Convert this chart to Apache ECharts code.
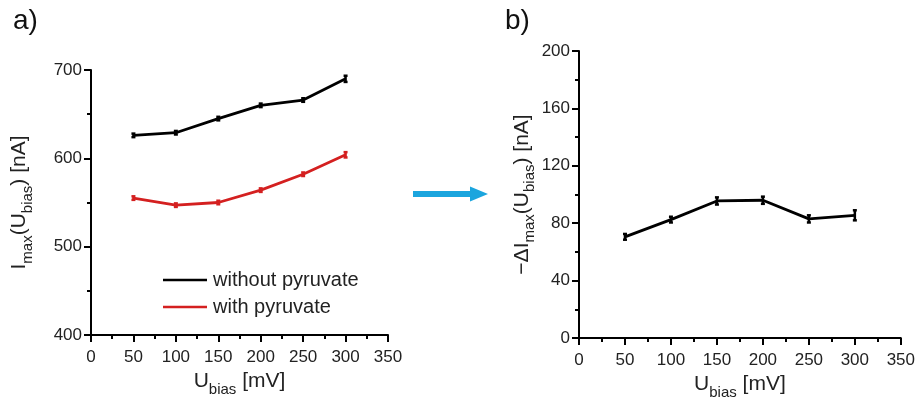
<!DOCTYPE html>
<html>
<head>
<meta charset="utf-8">
<script src="https://cdn.jsdelivr.net/npm/echarts@6/dist/echarts.min.js"></script>
<style>
  html, body { margin: 0; padding: 0; background: #fff; }
  #chart { width: 918px; height: 410px; }
</style>
</head>
<body>
<div id="chart"></div>
<script>
// Bias voltages (mV)
const biasVoltages = [50, 100, 150, 200, 250, 300];
// Peak current without / with pyruvate (nA)
const currentWithout = [626, 629, 645, 660, 666, 690];
const currentWithoutErr = [2, 2, 2, 2, 2, 3.5];
const currentWith = [555, 547, 550, 564, 582, 604];
const currentWithErr = [2, 2, 2, 2, 2, 3];
// Current drop (nA)
const currentDrop = [70.5, 82.5, 95.5, 96, 83, 85.5];
const currentDropErr = [2, 2, 2.5, 2.5, 2.5, 3.5];

const xTicks = { min: 0, max: 350, interval: 50 };
const leftTicks = { min: 400, max: 700, interval: 100 };
const rightTicks = { min: 0, max: 200, interval: 40 };

const FONT = 'Liberation Sans';
const RED = '#d42020';

const pairs = (ys) => biasVoltages.map((x, i) => [x, ys[i]]);
const errRows = (ys, es) => biasVoltages.map((x, i) => [x, ys[i] - es[i], ys[i] + es[i]]);

function errorBar(color) {
  return function (params, api) {
    const lo = api.coord([api.value(0), api.value(1)]);
    const hi = api.coord([api.value(0), api.value(2)]);
    const c = 2;
    const style = { stroke: color, lineWidth: 2.5 };
    return {
      type: 'group',
      children: [
        { type: 'line', shape: { x1: lo[0], y1: lo[1], x2: hi[0], y2: hi[1] }, style },
        { type: 'line', shape: { x1: lo[0] - c, y1: lo[1], x2: lo[0] + c, y2: lo[1] }, style },
        { type: 'line', shape: { x1: hi[0] - c, y1: hi[1], x2: hi[0] + c, y2: hi[1] }, style }
      ]
    };
  };
}

const axisCommon = {
  axisLine: { lineStyle: { color: '#000', width: 2 } },
  axisTick: { length: 7, lineStyle: { color: '#000', width: 2 } },
  minorTick: { show: true, splitNumber: 2, length: 4, lineStyle: { color: '#000', width: 2 } },
  splitLine: { show: false },
  axisLabel: { color: '#222', fontFamily: FONT, fontSize: 17 }
};

const nameRich = {
  m: { fontFamily: FONT, fontSize: 21, color: '#222', lineHeight: 32, verticalAlign: 'middle' },
  s: { fontFamily: FONT, fontSize: 15, color: '#222', lineHeight: 15, verticalAlign: 'bottom' }
};

function xAxis(gridIndex) {
  return Object.assign({}, axisCommon, {
    type: 'value', gridIndex,
    min: xTicks.min, max: xTicks.max, interval: xTicks.interval,
    axisLabel: Object.assign({}, axisCommon.axisLabel, { margin: 14 }),
    name: '{m|U}{s|bias}{m| [mV]}',
    nameLocation: 'middle', nameGap: 28,
    nameTextStyle: { rich: nameRich }
  });
}

const chart = echarts.init(document.getElementById('chart'));
chart.setOption({
  animation: false,
  backgroundColor: '#fff',
  grid: [
    { left: 91, top: 70, width: 297, height: 265 },
    { left: 579, top: 51, width: 325, height: 287 }
  ],
  xAxis: [xAxis(0), xAxis(1)],
  yAxis: [
    Object.assign({}, axisCommon, {
      type: 'value', gridIndex: 0,
      min: leftTicks.min, max: leftTicks.max, interval: leftTicks.interval,
      axisLabel: Object.assign({}, axisCommon.axisLabel, { margin: 9 }),
      name: '{m|I}{s|max}{m|(U}{s|bias}{m|) [nA]}',
      nameLocation: 'middle', nameGap: 56, nameRotate: 90,
      nameTextStyle: { rich: nameRich }
    }),
    Object.assign({}, axisCommon, {
      type: 'value', gridIndex: 1,
      min: rightTicks.min, max: rightTicks.max, interval: rightTicks.interval,
      axisLabel: Object.assign({}, axisCommon.axisLabel, { margin: 9 }),
      name: '{m|\u2212\u0394I}{s|max}{m|(U}{s|bias}{m|) [nA]}',
      nameLocation: 'middle', nameGap: 40, nameRotate: 90,
      nameTextStyle: { rich: nameRich }
    })
  ],
  legend: {
    orient: 'vertical',
    left: 163, top: 270, padding: 0,
    itemWidth: 44, itemHeight: 2.5, itemGap: 7,
    icon: 'rect',
    data: ['without pyruvate', 'with pyruvate'],
    textStyle: { fontFamily: FONT, fontSize: 20, color: '#222', padding: [0, 0, 0, 1] }
  },
  series: [
    {
      name: 'without pyruvate', type: 'line', xAxisIndex: 0, yAxisIndex: 0,
      data: pairs(currentWithout), symbol: 'none',
      lineStyle: { color: '#000', width: 2.8 }, itemStyle: { color: '#000' }
    },
    {
      name: 'with pyruvate', type: 'line', xAxisIndex: 0, yAxisIndex: 0,
      data: pairs(currentWith), symbol: 'none',
      lineStyle: { color: RED, width: 2.8 }, itemStyle: { color: RED }
    },
    {
      type: 'custom', xAxisIndex: 0, yAxisIndex: 0,
      data: errRows(currentWithout, currentWithoutErr),
      renderItem: errorBar('#000'), encode: { x: 0, y: [1, 2] }
    },
    {
      type: 'custom', xAxisIndex: 0, yAxisIndex: 0,
      data: errRows(currentWith, currentWithErr),
      renderItem: errorBar(RED), encode: { x: 0, y: [1, 2] }
    },
    {
      name: 'current drop', type: 'line', xAxisIndex: 1, yAxisIndex: 1,
      data: pairs(currentDrop), symbol: 'none',
      lineStyle: { color: '#000', width: 2.8 }
    },
    {
      type: 'custom', xAxisIndex: 1, yAxisIndex: 1,
      data: errRows(currentDrop, currentDropErr),
      renderItem: errorBar('#000'), encode: { x: 0, y: [1, 2] }
    }
  ],
  graphic: [
    { type: 'text', left: 13, top: 7, style: { text: 'a)', fontFamily: FONT, fontSize: 28, fill: '#111' } },
    { type: 'text', left: 505, top: 7, style: { text: 'b)', fontFamily: FONT, fontSize: 28, fill: '#111' } },
    {
      type: 'polygon',
      shape: { points: [[413, 191], [470, 191], [470, 186.5], [488, 194], [470, 201.5], [470, 197], [413, 197]] },
      style: { fill: '#1ba5de' }
    }
  ]
});
</script>
</body>
</html>
